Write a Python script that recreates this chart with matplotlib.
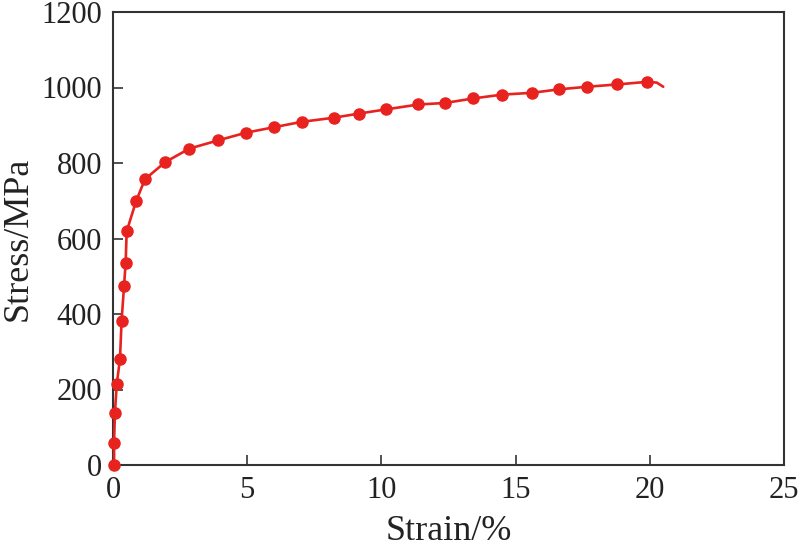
import matplotlib
matplotlib.use("Agg")
import matplotlib.pyplot as plt

# Data
strain = [0.04, 0.04, 0.07, 0.14, 0.26, 0.32, 0.41, 0.47, 0.51, 0.86, 1.19, 1.94,
          2.84, 3.92, 4.94, 6.01, 7.03, 8.23, 9.17, 10.17, 11.38, 12.37, 13.42,
          14.48, 15.62, 16.6, 17.67, 18.77, 19.9]
stress = [0, 59, 137, 214, 281, 382, 473, 534, 619, 699, 757, 802,
          838, 860, 880, 895, 909, 920, 931, 942, 955, 959, 971,
          981, 986, 995, 1002, 1008, 1015]
# tail of the curve after the last marker
tail_strain = [20.26, 20.5]
tail_stress = [1013, 1002]

xticks = [0, 5, 10, 15, 20, 25]
yticks = [0, 200, 400, 600, 800, 1000, 1200]

plt.rcParams['font.family'] = ['Liberation Serif', 'DejaVu Serif']

fig = plt.figure(figsize=(8.02, 5.47), dpi=100)
ax = fig.add_axes([113/802, 82/547, (784-113)/802, (465-12)/547])

red = '#e8221f'
ax.plot(strain + tail_strain, stress + tail_stress, color=red, lw=1.9,
        solid_capstyle='round', clip_on=False, zorder=3)
ax.plot(strain, stress, 'o', color=red, ms=8, clip_on=False, zorder=4)

ax.set_xlim(0, 25)
ax.set_ylim(0, 1200)
ax.set_xticks(xticks)
ax.set_yticks(yticks)
ax.tick_params(direction='in', length=7, width=1.2, pad=8, labelsize=22,
               colors='#333333', labelcolor='#222222')
for s in ax.spines.values():
    s.set_linewidth(1.5)
    s.set_color('#333333')

ax.set_xlabel('Strain/%', fontsize=26, color='#222222', labelpad=7)
ax.set_ylabel('Stress/MPa', fontsize=26, color='#222222', labelpad=5)

fig.savefig('out.png', dpi=100)
